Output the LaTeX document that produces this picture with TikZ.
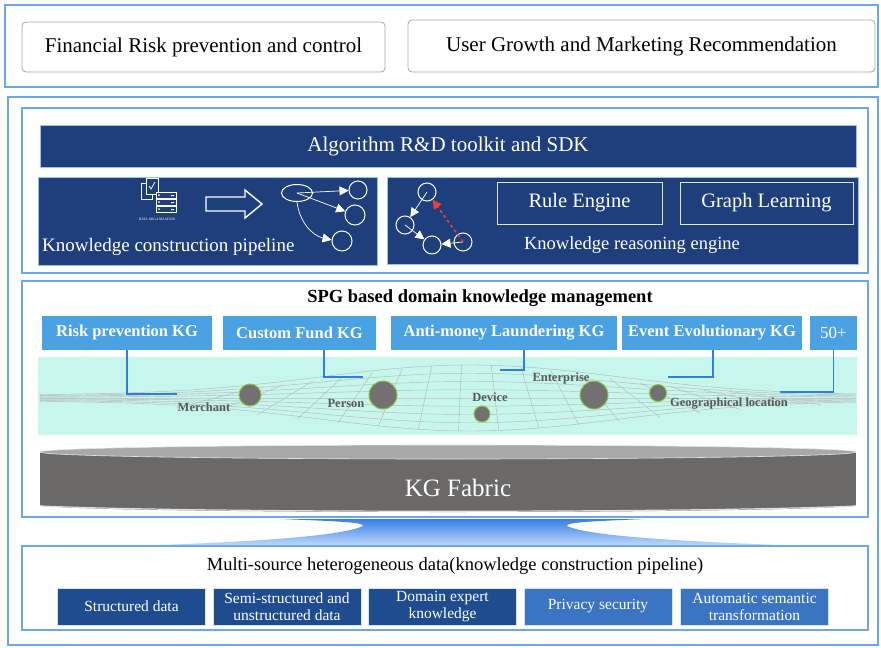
\documentclass[tikz,border=0pt]{standalone}
\usepackage{fontspec}
\setmainfont{Liberation Serif}
\usetikzlibrary{arrows.meta, positioning, shapes.geometric}

\definecolor{frameblue}{HTML}{6CA8E8}
\definecolor{navy}{HTML}{1F3F7C}
\definecolor{kgblue}{HTML}{4AA2E2}
\definecolor{mint}{HTML}{C6F6EC}
\definecolor{linkblue}{HTML}{2E7FE0}
\definecolor{dotgray}{HTML}{727070}
\definecolor{dotrim}{HTML}{8CC63F}
\definecolor{fabric}{HTML}{6B6868}
\definecolor{fabrictop}{HTML}{A9A8A8}
\definecolor{datadark}{HTML}{1F4C8E}
\definecolor{datamid}{HTML}{3A74C2}
\definecolor{funneltop}{HTML}{3B7EEB}
\definecolor{funnelbot}{HTML}{BBD8FA}
\definecolor{dashred}{HTML}{E8403A}

\begin{document}
\begin{tikzpicture}[x=1pt, y=-1pt,
    frame/.style={draw=frameblue, line width=1.3pt},
    appbox/.style={draw=gray!70, rounded corners=4pt, line width=0.8pt, font=\fontsize{21}{25}\selectfont},
    panel/.style={fill=navy, draw=frameblue!70, line width=1pt},
    whitebox/.style={draw=white!85!navy, line width=1pt, text=white, font=\fontsize{20.5}{24}\selectfont},
    kgbox/.style={fill=kgblue, text=white, minimum height=34pt, inner sep=0pt, font=\bfseries\fontsize{16.5}{19}\selectfont},
    entity/.style={circle, fill=dotgray, draw=dotrim, line width=1pt, inner sep=0pt},
    entlabel/.style={text=black!65, inner sep=0pt, font=\bfseries\fontsize{12.5}{14}\selectfont},
    link/.style={draw=linkblue, line width=1.6pt},
    meshline/.style={draw=gray!55, line width=0.45pt},
    netnode/.style={draw=white, line width=1pt, inner sep=0pt},
    netarrow/.style={white, line width=0.7pt, -{Triangle[length=9pt, width=9pt]}},
    databox/.style={text=white, align=center, minimum width=148pt, minimum height=37pt, inner sep=1pt, draw=white!70!frameblue, line width=0.5pt, font=\fontsize{15.5}{17}\selectfont},
    declare function={meshh(\t)=3+30*exp(-((\t-470)/210)*((\t-470)/210));}]
  \useasboundingbox (0,0) rectangle (881,648);

  % Top: application scenarios
  \draw[frame] (5,5) rectangle (878,87);
  \node[appbox, minimum width=363pt, minimum height=50pt] (finrisk) at (203.5,47) {Financial Risk prevention and control};
  \node[appbox, minimum width=467pt, minimum height=52pt] (growth) at (641.5,46) {User Growth and Marketing Recommendation};

  % Platform frame
  \draw[frame] (8,97) rectangle (878,645);

  % Algorithm layer
  \draw[frame] (22,108) rectangle (868,273);
  \node[panel, minimum width=816pt, minimum height=42pt, text=white, font=\fontsize{21}{25}\selectfont] (sdk) at (448,146) {Algorithm R\&D toolkit and SDK};

  % Left panel: construction pipeline
  \node[panel, minimum width=339pt, minimum height=88pt] (build) at (207.5,221) {};
  \node[anchor=west, text=white, inner sep=0pt, font=\fontsize{19}{22}\selectfont] (buildlbl) at (42,247) {Knowledge construction pipeline};
  % data organisation icon
  \draw[white, line width=0.6pt] (141,183) rectangle (152,199);
  \draw[white, line width=0.6pt, fill=navy] (146,178) rectangle (158,194);
  \draw[white, line width=0.8pt] (149,186) -- (151,189) -- (155,182);
  \foreach \r in {192,199,206}
    \draw[white, line width=0.6pt, fill=navy] (156,\r) rectangle (176,\r+6);
  \foreach \r in {195,202,209}
    \fill[white] (159,\r) circle (1) (171,\r) rectangle (174,\r+1);
  \node[text=white, inner sep=0pt, font=\fontsize{3.5}{4}\selectfont] (orglbl) at (157,219) {DATA ORGANIZATION};
  % hollow arrow
  \draw[white, line width=1.4pt, line join=miter] (206,197) -- (245,197) -- (245,190) -- (262,204) -- (245,218) -- (245,211) -- (206,211) -- cycle;
  % extracted graph
  \node[netnode, ellipse, minimum width=31pt, minimum height=17pt] (src) at (297,193) {};
  \node[netnode, circle, minimum size=18pt] (t1) at (358,190) {};
  \node[netnode, circle, minimum size=20pt] (t2) at (355,215) {};
  \node[netnode, circle, minimum size=20pt] (t3) at (342,241) {};
  \draw[netarrow] (src.center) -- (t1);
  \draw[netarrow] (src.center) -- (t2);
  \draw[netarrow] (src.south) to[bend right=35] (t3);

  % Right panel: reasoning engine
  \node[panel, minimum width=471pt, minimum height=87pt] (reason) at (622.5,220.5) {};
  \node[whitebox, minimum width=165pt, minimum height=42pt] (rules) at (579.5,203) {Rule Engine};
  \node[whitebox, minimum width=173pt, minimum height=42pt] (gl) at (766.5,203) {Graph Learning};
  \node[text=white, inner sep=0pt, font=\fontsize{18.5}{22}\selectfont] (reasonlbl) at (632,245) {Knowledge reasoning engine};
  \node[netnode, circle, minimum size=18pt] (r1) at (427,192) {};
  \node[netnode, circle, minimum size=18pt] (r2) at (405,225) {};
  \node[netnode, circle, minimum size=18pt] (r3) at (432,245) {};
  \node[netnode, circle, minimum size=18pt] (r4) at (463,242) {};
  \draw[netarrow] (r1.center) -- (r2);
  \draw[netarrow] (r2.center) -- (r3);
  \draw[netarrow] (r4.center) -- (r3);
  \draw[dashred, dashed, line width=1.6pt, -{Triangle[length=9pt, width=9pt]}] (r4.center) -- (r1);

  % Domain knowledge layer
  \draw[frame] (22,281) rectangle (868,517);
  \node[font=\bfseries\fontsize{18.5}{22}\selectfont] (spg) at (480,298) {SPG based domain knowledge management};
  \node[kgbox, minimum width=170pt] (riskkg) at (127,333) {Risk prevention KG};
  \node[kgbox, minimum width=153pt] (fundkg) at (299.5,333) {Custom Fund KG};
  \node[kgbox, minimum width=226pt] (amlkg) at (504,333) {Anti-money Laundering KG};
  \node[kgbox, minimum width=180pt] (eventkg) at (712,333) {Event Evolutionary KG};
  \node[kgbox, minimum width=47pt, font=\fontsize{17}{20}\selectfont] (morekg) at (833.5,333) {50+};

  % entity band with perspective mesh
  \fill[mint] (38,357) rectangle (857,435);
  \begin{scope}
    \clip (38,357) rectangle (857,435);
    \foreach \s in {-1,-0.75,...,1}
      \draw[meshline] plot[domain=40:856, samples=90, smooth] (\x, {398+\s*meshh(\x)});
    \foreach \m in {215,250,...,800}
      \draw[meshline] plot[domain=-1:1, samples=9, smooth, variable=\s] ({\m+0.15*(\m-470)*\s}, {398+\s*meshh(\m)});
  \end{scope}

  \coordinate (merchanttip) at (177,394);
  \coordinate (persontip) at (363,377);
  \coordinate (devicetip) at (500,370);
  \coordinate (enttip) at (668,377);
  \coordinate (geotip) at (780,392);
  \draw[link] (riskkg.south) |- (merchanttip);
  \draw[link] ([xshift=24.5pt]fundkg.south) |- (persontip);
  \draw[link] ([xshift=20pt]amlkg.south) |- (devicetip);
  \draw[link] ([xshift=1pt]eventkg.south) |- (enttip);
  \draw[link] (morekg.south) |- (geotip);

  \node[entity, minimum size=22pt] (merchant) at (250,395) {};
  \node[entity, minimum size=28pt] (person) at (383,395) {};
  \node[entity, minimum size=16pt] (device) at (482,414) {};
  \node[entity, minimum size=28pt] (enterprise) at (594,395) {};
  \node[entity, minimum size=17pt] (geo) at (658,393) {};
  \node[entlabel] at (204,407) {Merchant};
  \node[entlabel] at (346,403) {Person};
  \node[entlabel] at (490,397) {Device};
  \node[entlabel] at (561,378) {Enterprise};
  \node[entlabel] at (729,404) {Geographical location};

  % KG Fabric disc
  \fill[fabric] (40,452) rectangle (856,505);
  \fill[fabric] (448,505) ellipse [x radius=408, y radius=7];
  \draw[gray!25, line width=1.2pt] (41,506) .. controls (200,513) and (696,513) .. (855,506);
  \fill[fabrictop] (448,452) ellipse [x radius=408, y radius=7];
  \draw[white!80!gray, line width=0.6pt] (448,452) ellipse [x radius=408, y radius=7];
  \node[text=white, font=\fontsize{25}{30}\selectfont] (fabric) at (458,488) {KG Fabric};

  % Pedestal between fabric and data
  \shade[top color=funneltop, bottom color=funnelbot]
    (280,519) -- (645,519) .. controls (600,521) and (565,522) .. (567,526)
    .. controls (590,537) and (700,542) .. (780,545) -- (160,545)
    .. controls (240,542) and (340,537) .. (363,526)
    .. controls (365,522) and (330,521) .. (280,519) -- cycle;

  % Data layer
  \draw[frame] (22,546) rectangle (868,630);
  \node[font=\fontsize{18.5}{22}\selectfont] (sources) at (455,566) {Multi-source heterogeneous data(knowledge construction pipeline)};
  \node[databox, fill=datadark] (structured) at (131.5,606.5) {Structured data};
  \node[databox, fill=datadark, right=7pt of structured] (semi) {Semi-structured and\\unstructured data};
  \node[databox, fill=datadark, right=7pt of semi] (expert) {Domain expert\\knowledge};
  \node[databox, fill=datamid, right=7pt of expert] (privacy) {Privacy security};
  \node[databox, fill=datamid, right=8pt of privacy] (semantic) {Automatic semantic\\transformation};
\end{tikzpicture}
\end{document}
